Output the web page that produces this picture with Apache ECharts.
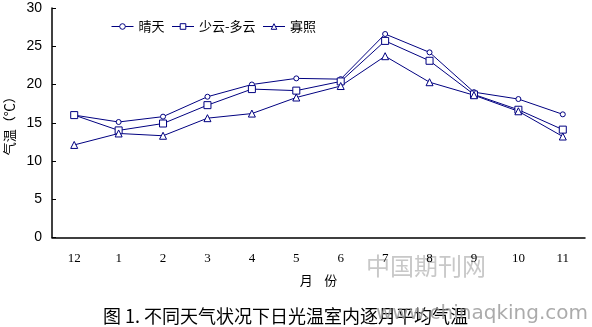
<!DOCTYPE html>
<html><head><meta charset="utf-8">
<script src="https://cdn.jsdelivr.net/npm/echarts@6/dist/echarts.min.js"></script>
<style>html,body{margin:0;padding:0;background:#fff}#c{width:592px;height:327px}</style>
</head><body><div id="c"></div>
<script>
const months = ['12','1','2','3','4','5','6','7','8','9','10','11'];
const sunny = [16.0,15.1,15.8,18.4,20.0,20.8,20.7,26.6,24.2,19.0,18.1,16.1];
const partly = [16.0,14.0,14.9,17.3,19.4,19.2,20.4,25.7,23.1,18.7,16.7,14.1];
const cloudy = [12.1,13.6,13.3,15.6,16.2,18.3,19.8,23.7,20.3,18.6,16.5,13.2];
const names = ['晴天','少云-多云','寡照'];
const yTicks = [0,5,10,15,20,25,30];

const navy = '#000080';
function mk(name, data, symbol, size){
  return {name, type:'line', data, symbol, symbolSize:size, showSymbol:true, showAllSymbol:true,
    lineStyle:{color:navy,width:1}, itemStyle:{color:'#fff',borderColor:navy,borderWidth:1},
    emphasis:{disabled:true}, animation:false};
}
const chart = echarts.init(document.getElementById('c'));
chart.setOption({
  animation:false,
  grid:{left:52,right:7,top:8,bottom:89.5,containLabel:false,outerBoundsMode:'none'},
  legend:{top:15,left:106,itemWidth:22,itemHeight:7,itemGap:7,
    itemStyle:{color:'#fff',borderColor:navy,borderWidth:1},
    lineStyle:{color:navy,width:1},
    textStyle:{fontFamily:'Noto Sans CJK SC',fontSize:13,color:'#000'},
    data:names},
  xAxis:{type:'category',data:months,boundaryGap:true,
    axisLine:{lineStyle:{color:'#000',width:1.5}},
    axisTick:{inside:true,length:4,lineStyle:{color:'#000'}},
    axisLabel:{margin:15,fontFamily:'Liberation Serif',fontSize:13,color:'#000'},
    name:'月    份',nameLocation:'middle',nameGap:36,nameMoveOverlap:false,
    nameTextStyle:{fontFamily:'Noto Sans CJK SC',fontSize:13,color:'#000'}},
  yAxis:{type:'value',min:yTicks[0],max:yTicks[yTicks.length-1],interval:5,
    axisLine:{show:true,lineStyle:{color:'#000',width:1.5}},
    axisTick:{show:true,inside:true,length:4,lineStyle:{color:'#000'}},
    splitLine:{show:false},
    axisLabel:{margin:10,fontFamily:'Liberation Sans',fontSize:14,color:'#000'},
    name:'气温（℃）',nameLocation:'middle',nameGap:36,nameRotate:90,nameMoveOverlap:false,
    nameTextStyle:{fontFamily:'Noto Sans CJK SC',fontSize:13,color:'#000'}},
  series:[mk(names[0],sunny,'circle',5),mk(names[1],partly,'rect',7),mk(names[2],cloudy,'triangle',7)],
  graphic:[
    {type:'text',left:366,top:254,style:{text:'中国期刊网',font:'24px "Noto Sans CJK SC"',fill:'#c8c8c8'}},
    {type:'text',left:103,top:307,style:{text:'图 1. 不同天气状况下日光温室内逐月平均气温',font:'18px "Noto Sans CJK SC"',fill:'#000'}},
    {type:'text',left:376,top:304,style:{text:'www.chinaqking.com',font:'20px "DejaVu Sans"',fill:'rgba(150,150,150,0.8)'}}
  ]
});
</script></body></html>
